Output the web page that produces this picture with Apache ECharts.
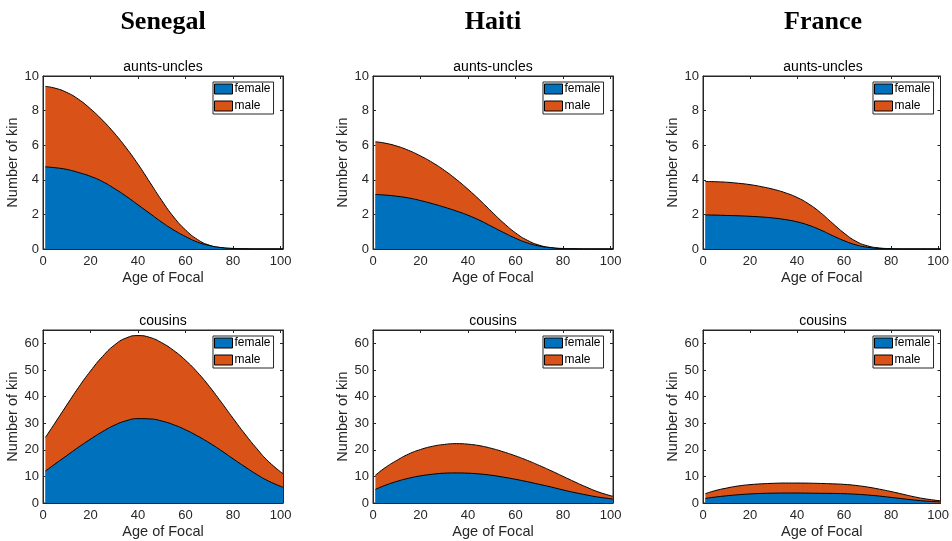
<!DOCTYPE html>
<html>
<head>
<meta charset="utf-8">
<script src="https://cdn.jsdelivr.net/npm/echarts@6/dist/echarts.min.js"></script>
<style>
html,body{margin:0;padding:0;background:#fff;}
#chart{width:952px;height:541px;}
</style>
</head>
<body>
<div id="chart"></div>
<script>
const countries = ['Senegal', 'Haiti', 'France'];
const kinTypes = ['aunts-uncles', 'cousins'];
const seriesNames = ['female', 'male'];
const ages = [1, 5, 10, 15, 20, 25, 30, 35, 40, 45, 50, 55, 60, 65, 70, 75, 80, 85, 90, 95, 101];
const xTicks = [0, 20, 40, 60, 80, 100];
const yTicksAunts = [0, 2, 4, 6, 8, 10];
const yTicksCousins = [0, 10, 20, 30, 40, 50, 60];

const senegalAuntsFemale = [4.75, 4.70, 4.60, 4.42, 4.20, 3.90, 3.50, 3.05, 2.55, 2.05, 1.55, 1.10, 0.72, 0.40, 0.20, 0.08, 0.03, 0.01, 0, 0, 0];
const senegalAuntsMale   = [4.65, 4.60, 4.45, 4.23, 3.90, 3.55, 3.20, 2.80, 2.35, 1.80, 1.25, 0.75, 0.38, 0.15, 0.02, 0, 0, 0, 0, 0, 0];
const haitiAuntsFemale   = [3.15, 3.12, 3.05, 2.95, 2.80, 2.62, 2.42, 2.20, 1.95, 1.65, 1.30, 0.95, 0.62, 0.35, 0.17, 0.07, 0.02, 0.01, 0, 0, 0];
const haitiAuntsMale     = [3.05, 3.00, 2.90, 2.75, 2.58, 2.38, 2.13, 1.83, 1.50, 1.17, 0.85, 0.55, 0.31, 0.15, 0.05, 0.01, 0.01, 0, 0, 0, 0];
const franceAuntsFemale  = [1.97, 1.96, 1.94, 1.92, 1.89, 1.85, 1.79, 1.70, 1.57, 1.37, 1.10, 0.78, 0.48, 0.24, 0.10, 0.03, 0.01, 0, 0, 0, 0];
const franceAuntsMale    = [1.93, 1.93, 1.92, 1.88, 1.83, 1.75, 1.66, 1.55, 1.41, 1.23, 1.00, 0.72, 0.44, 0.21, 0.08, 0.03, 0.01, 0, 0, 0, 0];

const senegalCousinsFemale = [12.0, 14.6, 17.8, 21.0, 24.0, 26.8, 29.2, 30.9, 31.7, 31.6, 30.8, 29.4, 27.5, 25.2, 22.6, 19.7, 16.6, 13.6, 10.7, 8.2, 5.9];
const senegalCousinsMale   = [12.6, 15.4, 19.0, 22.5, 25.6, 28.2, 30.1, 31.1, 31.2, 30.6, 29.4, 27.9, 26.1, 23.9, 21.2, 18.2, 15.2, 12.3, 9.7, 7.3, 5.1];
const haitiCousinsFemale   = [5.1, 6.6, 8.1, 9.3, 10.2, 10.8, 11.2, 11.3, 11.2, 10.9, 10.4, 9.7, 8.9, 8.0, 7.0, 6.0, 4.9, 3.9, 3.0, 2.2, 1.5];
const haitiCousinsMale     = [5.3, 6.6, 7.9, 9.1, 9.9, 10.5, 10.8, 11.0, 10.9, 10.6, 10.1, 9.5, 8.8, 8.0, 7.1, 6.1, 5.1, 4.0, 2.9, 1.9, 1.0];
const franceCousinsFemale  = [1.7, 2.2, 2.7, 3.1, 3.4, 3.6, 3.7, 3.75, 3.75, 3.7, 3.65, 3.6, 3.5, 3.3, 3.0, 2.6, 2.1, 1.6, 1.1, 0.7, 0.4];
const franceCousinsMale    = [1.8, 2.4, 2.9, 3.3, 3.5, 3.6, 3.7, 3.75, 3.75, 3.75, 3.7, 3.6, 3.5, 3.3, 3.0, 2.6, 2.2, 1.7, 1.2, 0.8, 0.4];

const panelData = [
  [senegalAuntsFemale, senegalAuntsMale],
  [haitiAuntsFemale, haitiAuntsMale],
  [franceAuntsFemale, franceAuntsMale],
  [senegalCousinsFemale, senegalCousinsMale],
  [haitiCousinsFemale, haitiCousinsMale],
  [franceCousinsFemale, franceCousinsMale]
];

const COLORS = ['#0072BD', '#D95319'];
const AXIS = '#262626';
const SANS = 'Liberation Sans, Arial, Helvetica, sans-serif';

const grids = [], xAxes = [], yAxes = [], series = [], titles = [], legends = [];

const colLeft = [43, 373, 703];
const rowTop = [76, 330];
const W = 240, H = 173;

countries.forEach((c, ci) => {
  titles.push({
    text: c, left: colLeft[ci] + W / 2, top: 9, textAlign: 'center', padding: 0,
    textStyle: { fontFamily: 'Liberation Serif, Times New Roman, serif', fontWeight: 'bold', fontSize: 26, color: '#000' }
  });
});

for (let r = 0; r < 2; r++) {
  for (let c = 0; c < 3; c++) {
    const i = r * 3 + c;
    const yMax = r === 0 ? 10 : 65;
    const yInt = r === 0 ? 2 : 10;
    const yTicks = r === 0 ? yTicksAunts : yTicksCousins;
    grids.push({
      left: colLeft[c], top: rowTop[r], width: W, height: H,
      show: true, borderColor: AXIS, borderWidth: 1, backgroundColor: '#fff'
    });
    titles.push({
      text: kinTypes[r], left: colLeft[c] + W / 2, top: rowTop[r] - 16, textAlign: 'center', padding: 0,
      textStyle: { fontFamily: SANS, fontWeight: 'normal', fontSize: 14, color: '#000' }
    });
    xAxes.push({
      type: 'value', gridIndex: i, min: 0, max: 101, interval: 20, position: 'bottom',
      name: 'Age of Focal', nameLocation: 'middle', nameGap: 21,
      nameTextStyle: { fontFamily: SANS, fontSize: 14.5, color: AXIS },
      axisLine: { show: true, onZero: false, lineStyle: { color: AXIS, width: 1 } },
      axisTick: { show: true, inside: true, length: 3, customValues: xTicks, lineStyle: { color: AXIS } },
      axisLabel: { show: true, margin: 6, customValues: xTicks, fontFamily: SANS, fontSize: 13, color: AXIS },
      splitLine: { show: false }
    });
    yAxes.push({
      type: 'value', gridIndex: i, min: 0, max: yMax, interval: yInt, position: 'left',
      name: 'Number of kin', nameLocation: 'middle', nameGap: 22, nameRotate: 90,
      nameTextStyle: { fontFamily: SANS, fontSize: 14.5, color: AXIS },
      axisLine: { show: true, onZero: false, lineStyle: { color: AXIS, width: 1 } },
      axisTick: { show: true, inside: true, length: 3, customValues: yTicks, lineStyle: { color: AXIS } },
      axisLabel: { show: true, margin: 4, customValues: yTicks, fontFamily: SANS, fontSize: 13, color: AXIS },
      splitLine: { show: false }
    });
    const female = panelData[i][0];
    const male = panelData[i][1];
    // male band drawn as the cumulative top (female + male), female drawn on top of it
    series.push({
      name: 'male', type: 'line', xAxisIndex: i, yAxisIndex: i,
      smooth: true, symbol: 'none', silent: true,
      data: ages.map((a, k) => [a, +(female[k] + male[k]).toFixed(3)]),
      itemStyle: { color: COLORS[1] },
      lineStyle: { color: '#000', width: 1 },
      areaStyle: { color: COLORS[1], opacity: 1 },
      z: 2
    });
    series.push({
      name: 'female', type: 'line', xAxisIndex: i, yAxisIndex: i,
      smooth: true, symbol: 'none', silent: true,
      data: ages.map((a, k) => [a, female[k]]),
      itemStyle: { color: COLORS[0] },
      lineStyle: { color: '#000', width: 1 },
      areaStyle: { color: COLORS[0], opacity: 1 },
      z: 3
    });
    legends.push({
      data: seriesNames, orient: 'vertical', left: colLeft[c] + 170, top: rowTop[r] + 6,
      icon: 'rect', itemWidth: 18, itemHeight: 10, itemGap: 5,
      padding: [1, 3, 2, 1], borderColor: AXIS, borderWidth: 1, backgroundColor: '#fff',
      itemStyle: { borderColor: '#000', borderWidth: 1 },
      textStyle: { fontFamily: SANS, fontSize: 12, color: '#000', padding: [0, 0, 0, -3] },
      selectedMode: false
    });
  }
}
for (let i = 0; i < 6; i++) {
  const r = Math.floor(i / 3);
  const yMax = r === 0 ? 10 : 65;
  const yInt = r === 0 ? 2 : 10;
  const yTicks = r === 0 ? yTicksAunts : yTicksCousins;
  xAxes.push({
    type: 'value', gridIndex: i, min: 0, max: 101, interval: 20, position: 'top',
    axisLine: { show: true, onZero: false, lineStyle: { color: AXIS, width: 1 } },
    axisTick: { show: true, inside: true, length: 3, customValues: xTicks, lineStyle: { color: AXIS } },
    axisLabel: { show: false }, splitLine: { show: false }
  });
  yAxes.push({
    type: 'value', gridIndex: i, min: 0, max: yMax, interval: yInt, position: 'right',
    axisLine: { show: true, onZero: false, lineStyle: { color: AXIS, width: 1 } },
    axisTick: { show: true, inside: true, length: 3, customValues: yTicks, lineStyle: { color: AXIS } },
    axisLabel: { show: false }, splitLine: { show: false }
  });
}

const chart = echarts.init(document.getElementById('chart'), null, { renderer: 'canvas' });
chart.setOption({
  animation: false,
  backgroundColor: '#fff',
  title: titles,
  legend: legends,
  grid: grids,
  xAxis: xAxes,
  yAxis: yAxes,
  series: series
});
</script>
</body>
</html>
